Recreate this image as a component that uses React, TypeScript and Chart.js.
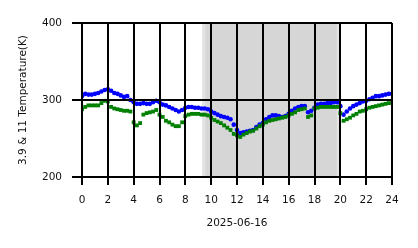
import React, { useEffect, useRef } from "react";
import { Chart, registerables } from "chart.js";

Chart.register(...registerables);

// Sampling step of the time series, in hours (00:00 .. 24:00)
const STEP_HOURS = 0.25;

// 11 µm brightness temperature (K), every 15 min
const temp11 = [
  305, 308, 307, 307, 308, 309, 311, 313, 314, 312, 309, 308, 306, 304, 305, 300,
  297, 295, 295, 296, 295, 295, 297, 299, 297, 294, 293, 291, 289, 287, 285, 287,
  290, 291, 291, 290, 290, 289, 289, 288, 285, 283, 281, 279, 278, 277, 275, 268,
  261, 257, 258, 259, 260, 261, 265, 268, 270, 275, 278, 280, 280, 279, 278, 279,
  282, 286, 289, 291, 292, 292, 284, 286, 290, 294, 295, 295, 296, 296, 297, 297,
  292, 281, 285, 289, 292, 294, 296, 298, 299, 301, 303, 305, 305, 306, 307, 308,
  308,
];

// 3.9 µm brightness temperature (K), every 15 min
const temp39 = [
  288, 291, 293, 293, 293, 293, 296, 299, 298, 291, 289, 288, 287, 286, 286, 285,
  271, 267, 270, 281, 283, 284, 285, 287, 281, 278, 273, 271, 268, 266, 266, 271,
  279, 281, 282, 282, 282, 281, 281, 280, 277, 274, 272, 270, 267, 264, 261, 256,
  254, 252, 255, 257, 259, 260, 263, 266, 268, 271, 273, 274, 275, 276, 277, 278,
  280, 282, 284, 287, 288, 289, 278, 280, 289, 290, 291, 291, 291, 291, 291, 291,
  283, 273, 275, 277, 280, 282, 285, 286, 288, 290, 291, 292, 293, 294, 295, 296,
  296,
];

const xMin = 0;
const xMax = 24;
const xTickStep = 2;
const yMin = 200;
const yMax = 400;
const yTickStep = 100;

// shaded (night) period, hours
const shadeOuter = [9.3, 19.97];
const shadeInner = [9.56, 19.72];

const dateLabel = "2025-06-16";
const yTitle = "3.9 & 11 Temperature(K)";

const FONT = "'DejaVu Sans', sans-serif";

const shadePlugin = {
  id: "shade",
  beforeDatasetsDraw(chart: any) {
    const { ctx, chartArea, scales } = chart;
    const x = scales.x;
    const bands: [number[], string][] = [
      [shadeOuter, "#e3e3e3"],
      [shadeInner, "#d6d6d6"],
    ];
    ctx.save();
    for (const [range, color] of bands) {
      const x0 = x.getPixelForValue(range[0]);
      const x1 = x.getPixelForValue(range[1]);
      ctx.fillStyle = color;
      ctx.fillRect(x0, chartArea.top, x1 - x0, chartArea.bottom - chartArea.top);
    }
    ctx.restore();
  },
};

export default function App() {
  const ref = useRef<HTMLCanvasElement | null>(null);

  useEffect(() => {
    document.body.style.margin = "0";
    const canvas = ref.current;
    if (!canvas) return;
    const toPts = (arr: number[]) => arr.map((v, i) => ({ x: i * STEP_HOURS, y: v }));

    const chart = new Chart(canvas, {
      type: "scatter",
      data: {
        datasets: [
          {
            label: "3.9",
            data: toPts(temp39),
            pointStyle: "rect",
            pointRadius: 2.7,
            backgroundColor: "#008000",
            borderWidth: 0,
            order: 1,
          },
          {
            label: "11",
            data: toPts(temp11),
            pointStyle: "circle",
            pointRadius: 2.3,
            backgroundColor: "#0000ff",
            borderWidth: 0,
            order: 2,
          },
        ],
      },
      options: {
        responsive: false,
        animation: false,
        events: [],
        layout: { padding: { left: 0, right: 26, top: 23, bottom: 0 } },
        plugins: {
          legend: { display: false },
          tooltip: { enabled: false },
        },
        scales: {
          x: {
            type: "linear",
            min: xMin,
            max: xMax,
            afterFit: (s: any) => {
              s.height = 71;
            },
            ticks: {
              stepSize: xTickStep,
              color: "#111",
              padding: 9,
              maxRotation: 0,
              font: { family: FONT, size: 10.5 },
            },
            grid: {
              z: 1,
              color: "#000",
              lineWidth: 2,
              tickColor: "#000",
              tickLength: 8,
              tickWidth: 2,
            },
            border: { display: true, color: "#000", width: 2, z: 2 },
            title: {
              display: true,
              text: dateLabel,
              color: "#111",
              font: { family: FONT, size: 10.5 },
              padding: { top: 0, bottom: 18.5 },
            },
          },
          y: {
            type: "linear",
            min: yMin,
            max: yMax,
            afterFit: (s: any) => {
              s.width = 82;
            },
            ticks: {
              stepSize: yTickStep,
              color: "#111",
              padding: 10,
              font: { family: FONT, size: 10.5 },
            },
            grid: {
              z: 1,
              color: "#000",
              lineWidth: 2,
              tickColor: "#000",
              tickLength: 10,
              tickWidth: 2,
            },
            border: { display: true, color: "#000", width: 2, z: 2 },
            title: {
              display: true,
              text: yTitle,
              color: "#111",
              font: { family: FONT, size: 10.5 },
              padding: { top: 16.5, bottom: 0 },
            },
          },
        },
      },
      plugins: [shadePlugin],
    } as any);

    return () => chart.destroy();
  }, []);

  return <canvas ref={ref} width={418} height={248} style={{ display: "block" }} />;
}
